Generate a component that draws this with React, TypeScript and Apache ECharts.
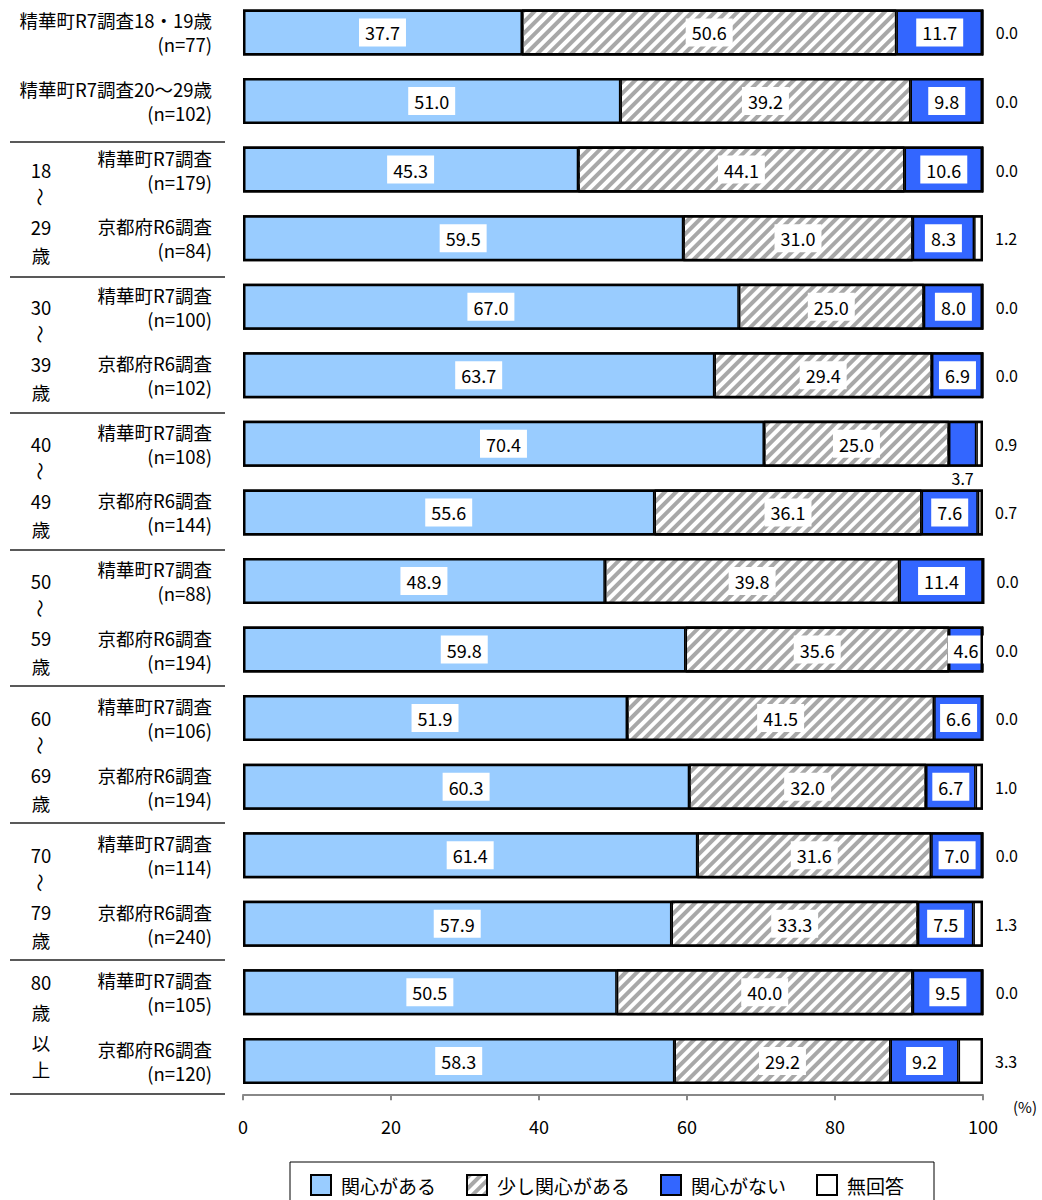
import React, { useEffect, useRef } from "react";
import * as echarts from "echarts";

const FONT = '"Noto Sans CJK JP", "Noto Sans", sans-serif';

// ---- data ----
const surveyNames = [
  "精華町R7調査18・19歳",
  "精華町R7調査20～29歳",
  "精華町R7調査",
  "京都府R6調査",
  "精華町R7調査",
  "京都府R6調査",
  "精華町R7調査",
  "京都府R6調査",
  "精華町R7調査",
  "京都府R6調査",
  "精華町R7調査",
  "京都府R6調査",
  "精華町R7調査",
  "京都府R6調査",
  "精華町R7調査",
  "京都府R6調査",
];
const sampleSizes = [77, 102, 179, 84, 100, 102, 108, 144, 88, 194, 106, 194, 114, 240, 105, 120];

const seriesNames = ["関心がある", "少し関心がある", "関心がない", "無回答"];
const interested = [37.7, 51.0, 45.3, 59.5, 67.0, 63.7, 70.4, 55.6, 48.9, 59.8, 51.9, 60.3, 61.4, 57.9, 50.5, 58.3];
const somewhat = [50.6, 39.2, 44.1, 31.0, 25.0, 29.4, 25.0, 36.1, 39.8, 35.6, 41.5, 32.0, 31.6, 33.3, 40.0, 29.2];
const notInterested = [11.7, 9.8, 10.6, 8.3, 8.0, 6.9, 3.7, 7.6, 11.4, 4.6, 6.6, 6.7, 7.0, 7.5, 9.5, 9.2];
const noAnswer = [0.0, 0.0, 0.0, 1.2, 0.0, 0.0, 0.9, 0.7, 0.0, 0.0, 0.0, 1.0, 0.0, 1.3, 0.0, 3.3];

// age groups: first row index, text lines
const ageGroups = [
  { row: 2, lines: ["18", "〜", "29", "歳"] },
  { row: 4, lines: ["30", "〜", "39", "歳"] },
  { row: 6, lines: ["40", "〜", "49", "歳"] },
  { row: 8, lines: ["50", "〜", "59", "歳"] },
  { row: 10, lines: ["60", "〜", "69", "歳"] },
  { row: 12, lines: ["70", "〜", "79", "歳"] },
  { row: 14, lines: ["80", "歳", "以", "上"] },
];

const xTicks = { min: 0, max: 100, interval: 20 };

export default function App() {
  const ref = useRef<HTMLDivElement>(null);

  useEffect(() => {
    document.body.style.margin = "0";
    if (!ref.current) return;
    const chart = echarts.init(ref.current, undefined, { renderer: "svg" });
    const cats = surveyNames.map((_, i) => String(i));
    const totals = interested.map((v, i) => v + somewhat[i] + notInterested[i] + noAnswer[i]);

    const segLabel = {
      show: true,
      position: "inside",
      formatter: (p: any) => Number(p.value).toFixed(1),
      backgroundColor: "#fff",
      padding: [4, 6],
      fontSize: 18,
      lineHeight: 20,
      color: "#000",
      fontFamily: FONT,
    };

    const base = {
      type: "bar",
      stack: "total",
      barWidth: 46,
      barGap: "-100%",
    };

    const option: any = {
      animation: false,
      backgroundColor: "#fff",
      textStyle: { fontFamily: FONT },
      grid: { left: 243, top: -1.8, width: 740, height: 1097, outerBoundsMode: "none" },
      legend: {
        data: seriesNames,
        left: 290,
        top: 1162,
        icon: "rect",
        itemWidth: 20,
        itemHeight: 20,
        itemGap: 30,
        borderColor: "#000",
        borderWidth: 1,
        padding: [12, 30, 14, 20],
        textStyle: { fontSize: 19, color: "#000", fontFamily: FONT, padding: [0, 0, 0, 5] },
      },
      xAxis: {
        type: "value",
        min: xTicks.min,
        max: xTicks.max,
        interval: xTicks.interval,
        axisLine: { show: true, lineStyle: { color: "#888", width: 2 } },
        axisTick: { show: true, length: 5, lineStyle: { color: "#888", width: 2 } },
        splitLine: { show: false },
        axisLabel: { fontSize: 18, color: "#000", margin: 22, fontFamily: FONT },
      },
      yAxis: {
        type: "category",
        inverse: true,
        data: cats,
        axisLine: { show: false },
        axisTick: { show: false },
        axisLabel: {
          margin: 31,
          align: "right",
          color: "#000",
          fontSize: 18.5,
          lineHeight: 24,
          fontFamily: FONT,
          formatter: (v: string) => {
            const i = Number(v);
            return `${surveyNames[i]}\n(n=${sampleSizes[i]})`;
          },
        },
      },
      series: [
        {
          ...base,
          name: seriesNames[0],
          data: interested,
          itemStyle: { color: "#99CCFF", borderColor: "#000", borderWidth: 1.5 },
          label: segLabel,
        },
        {
          ...base,
          name: seriesNames[1],
          data: somewhat,
          itemStyle: {
            color: "#fff",
            borderColor: "#000",
            borderWidth: 1.5,
            decal: {
              symbol: "rect",
              symbolSize: 1,
              color: "#a8a8a8",
              backgroundColor: "#fff",
              dashArrayX: [1, 0],
              dashArrayY: [3.2, 3.3],
              rotation: -Math.PI / 4,
            },
          },
          label: segLabel,
        },
        {
          ...base,
          name: seriesNames[2],
          data: notInterested.map((v) =>
            v < 4
              ? {
                  value: v,
                  label: { position: "bottom", distance: 1, backgroundColor: "transparent", padding: 0, fontSize: 16 },
                }
              : v
          ),
          itemStyle: { color: "#3366FF", borderColor: "#000", borderWidth: 1.5 },
          label: segLabel,
        },
        {
          ...base,
          name: seriesNames[3],
          data: noAnswer,
          clip: false,
          itemStyle: { color: "#fff", borderColor: "#000", borderWidth: 1.5 },
          label: {
            show: true,
            position: "right",
            distance: 12,
            formatter: (p: any) => Number(p.value).toFixed(1),
            fontSize: 16,
            color: "#000",
            fontFamily: FONT,
          },
        },
        {
          type: "bar",
          name: "frame",
          data: totals,
          barWidth: 46,
          barGap: "-100%",
          z: 3,
          silent: true,
          itemStyle: { color: "rgba(0,0,0,0)", borderColor: "#000", borderWidth: 2.5 },
          label: { show: false },
        },
      ],
    };

    chart.setOption(option);

    const rowY = (i: number) => chart.convertToPixel({ yAxisIndex: 0 }, String(i)) as number;
    const graphics: any[] = [];
    const sepY = [142, 277, 413, 550, 686, 823, 960, 1094];
    sepY.forEach((y) =>
      graphics.push({
        type: "line",
        shape: { x1: 10, y1: y, x2: 225, y2: y },
        style: { stroke: "#222", lineWidth: 1.5 },
        silent: true,
      })
    );
    ageGroups.forEach((g, gi) => {
      const c = rowY(g.row);
      const offs = gi === ageGroups.length - 1 ? [-10, 20, 50, 77] : [0, 27.5, 57, 85];
      g.lines.forEach((t, li) => {
        const isWave = t === "〜";
        graphics.push({
          type: "text",
          x: 41,
          y: c + offs[li],
          rotation: isWave ? -Math.PI / 2 : 0,
          silent: true,
          style: {
            text: t,
            fontSize: 18.5,
            fontFamily: FONT,
            fill: "#000",
            align: "center",
            verticalAlign: "middle",
          },
        });
      });
    });
    graphics.push({
      type: "text",
      x: 1013,
      y: 1106,
      silent: true,
      style: { text: "(%)", fontSize: 15, fontFamily: FONT, fill: "#000", align: "left", verticalAlign: "middle" },
    });
    chart.setOption({ graphic: graphics });

    return () => chart.dispose();
  }, []);

  return <div ref={ref} style={{ width: 1042, height: 1200 }} />;
}
